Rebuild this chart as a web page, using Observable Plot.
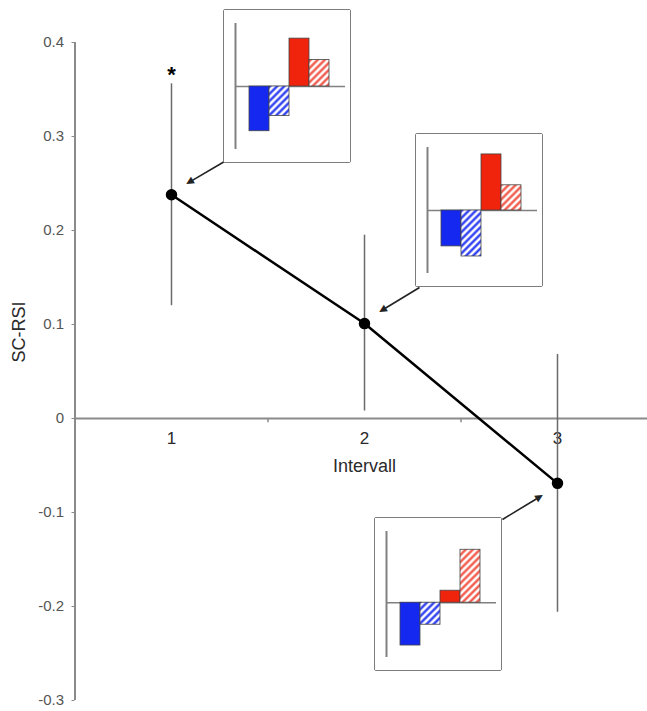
<!DOCTYPE html>
<html>
<head>
<meta charset="utf-8">
<script src="https://cdn.jsdelivr.net/npm/d3@7"></script>
<script src="https://cdn.jsdelivr.net/npm/@observablehq/plot@0.6"></script>
<style>
  html, body { margin: 0; padding: 0; background: #fff; overflow: hidden; }
  #wrap { position: relative; width: 647px; height: 711px; overflow: hidden; }
  #wrap svg { overflow: hidden; }
  .inset { position: absolute; border: 1.5px solid #7c7c7c; border-radius: 2px; background: #fff; box-sizing: content-box; }
  .inset svg { display: block; }
</style>
</head>
<body>
<svg width="0" height="0" style="position:absolute">
  <defs>
    <pattern id="hatchBlue" patternUnits="userSpaceOnUse" width="5" height="5" patternTransform="rotate(45)">
      <rect width="5" height="5" fill="#ffffff"></rect>
      <line x1="1.5" y1="0" x2="1.5" y2="5" stroke="#1a2cf0" stroke-width="2.2"></line>
    </pattern>
    <pattern id="hatchRed" patternUnits="userSpaceOnUse" width="5" height="5" patternTransform="rotate(45)">
      <rect width="5" height="5" fill="#ffffff"></rect>
      <line x1="1.5" y1="0" x2="1.5" y2="5" stroke="#f04a3a" stroke-width="2.2"></line>
    </pattern>
  </defs>
</svg>
<div id="wrap"></div>
<script>
// ---- main series ----
const intervals = [1, 2, 3];
const rsiMean = [0.238, 0.101, -0.069];
const rsiLow = [0.120, 0.008, -0.206];
const rsiHigh = [0.356, 0.195, 0.068];
const significance = ["*", "", ""];

// ---- axes ----
const yTicks = [0.4, 0.3, 0.2, 0.1, 0, -0.1, -0.2, -0.3];
const yTickLabels = ["0.4", "0.3", "0.2", "0.1", "0", "-0.1", "-0.2", "-0.3"];
const xTicks = [1, 2, 3];
const xTickLabels = ["1", "2", "3"];
const xBoundaries = [1.5, 2.5];
const yTitle = "SC-RSI";
const xTitle = "Intervall";

// ---- inset bar charts ----
const insetBars = ["blue", "blue hatched", "red", "red hatched"];
const inset1Values = [-0.71, -0.47, 0.76, 0.42];
const inset2Values = [-0.57, -0.73, 0.89, 0.40];
const inset3Values = [-0.68, -0.35, 0.19, 0.84];
const insetDomains = [[-1, 1], [-1, 1], [-0.87, 1.13]];
// inset placement (main-chart data coordinates: box centre x, box top y)
const insetCenterX = [1.606, 2.601, 2.386];
const insetTopY = [0.434, 0.302, -0.1074];
// arrows from inset boxes to points (data coordinates)
const arrowX1 = [1.2746, 2.285, 2.715];
const arrowY1 = [0.2734, 0.1394, -0.1074];
const arrowX2 = [1.0725, 2.0725, 2.9275];
const arrowY2 = [0.249, 0.1128, -0.0809];

const font = "Liberation Sans, Arial, Helvetica, sans-serif";

const xRange = [74.5, 653.5];
const yRange = [700, 42];
const kx = (xRange[1] - xRange[0]) / 3;       // px per x unit
const ky = (yRange[0] - yRange[1]) / 0.7;     // px per y unit

const points = intervals.map((x, i) => ({x, y: rsiMean[i], lo: rsiLow[i], hi: rsiHigh[i], sig: significance[i]}));
const headLen = 8;
const arrows = arrowX1.map((x1, i) => {
  const x2 = arrowX2[i], y2 = arrowY2[i], y1 = arrowY1[i];
  const dxp = (x2 - x1) * kx, dyp = -(y2 - y1) * ky;
  const len = Math.hypot(dxp, dyp);
  const ux = dxp / len, uy = dyp / len;
  const bx = x2 - ux * headLen / kx, by = y2 + uy * headLen / ky;
  const cx = x2 - ux * (headLen * 0.5) / kx, cy = y2 + uy * (headLen * 0.5) / ky;
  const rot = Math.atan2(ux, -uy) * 180 / Math.PI;
  return {x1, y1, x2, y2, bx, by, cx, cy, rot};
});
const xTickData = xTicks.map((v, i) => ({v, label: xTickLabels[i]}));

const chart = Plot.plot({
  width: 647,
  height: 711,
  marginTop: 42,
  marginBottom: 11,
  marginLeft: 74.5,
  marginRight: 0,
  style: {fontFamily: font, background: "#fff"},
  x: {domain: [0.5, 3.5], range: xRange, axis: null},
  y: {domain: [-0.3, 0.4], range: yRange, axis: null},
  marks: [
    // y axis
    Plot.ruleX([0.5], {y1: -0.3, y2: 0.4, stroke: "#8a8a8a", strokeWidth: 2}),
    Plot.axisY(yTicks, {tickSize: 3, tickPadding: 8, stroke: "#8a8a8a", fill: "#555", fontSize: 15,
      tickFormat: (d) => yTickLabels[yTicks.indexOf(d)]}),
    // x axis along zero
    Plot.ruleY([0], {x1: 0.5, x2: 3.5, stroke: "#8a8a8a", strokeWidth: 2}),
    Plot.link(xBoundaries, {x1: d => d, x2: d => d, y1: 0, y2: -0.004, stroke: "#8a8a8a", strokeWidth: 1.5}),
    Plot.text(xTickData, {x: "v", y: 0, text: "label", dy: 20, fontSize: 17, fill: "#2a2a2a"}),
    Plot.text([xTitle], {x: 2, y: 0, dy: 48, fontSize: 18, fill: "#2a2a2a"}),
    Plot.text([yTitle], {frameAnchor: "left", dx: -56, dy: -9, rotate: -90, fontSize: 18, fill: "#2a2a2a"}),
    // error bars
    Plot.ruleX(points, {x: "x", y1: "lo", y2: "hi", stroke: "#6a6a6a", strokeWidth: 1.5}),
    // mean line and points
    Plot.line(points, {x: "x", y: "y", stroke: "#000", strokeWidth: 2.5}),
    Plot.dot(points, {x: "x", y: "y", r: 5, fill: "#000", stroke: "#000"}),
    Plot.text(points.filter(d => d.sig), {x: "x", y: "hi", text: "sig", dy: -9, fontSize: 22, fontWeight: "bold", fill: "#000"}),
    // arrows: shaft + filled head (rotated glyph)
    Plot.link(arrows, {x1: "x1", y1: "y1", x2: "bx", y2: "by", stroke: "#222", strokeWidth: 1.6}),
    Plot.text(arrows, {x: "cx", y: "cy", text: () => "\u25B2", rotate: "rot", fontSize: 10,
      fontFamily: "DejaVu Sans", fill: "#222", lineAnchor: "middle"})
  ]
});

const wrap = document.getElementById("wrap");
wrap.appendChild(chart);

const sx = chart.scale("x");
const sy = chart.scale("y");

const insetW = 126, insetH = 152;
const fills = ["#1428f0", "url(#hatchBlue)", "#f0240c", "url(#hatchRed)"];
const allInsets = [inset1Values, inset2Values, inset3Values];

allInsets.forEach((vals, k) => {
  const data = insetBars.map((name, i) => ({name, i, v: vals[i]}));
  const dom = insetDomains[k];
  const p = Plot.plot({
    width: insetW,
    height: insetH,
    margin: 0,
    style: {background: "#fff"},
    x: {domain: [-1.25, 5.05], range: [0, insetW], axis: null},
    y: {domain: dom, range: [insetH - 13, 13], axis: null},
    marks: [
      Plot.ruleX([-0.7], {y1: dom[0], y2: dom[1], stroke: "#808080", strokeWidth: 2}),
      Plot.ruleY([0], {x1: -0.7, x2: 4.8, stroke: "#808080", strokeWidth: 1.5}),
      Plot.rect(data, {x1: d => d.i, x2: d => d.i + 1, y1: 0, y2: "v",
        fill: d => fills[d.i], stroke: "#444", strokeWidth: 0.8})
    ]
  });
  const div = document.createElement("div");
  div.className = "inset";
  const left = sx.apply(insetCenterX[k]) - insetW / 2 - 1.5;
  const top = sy.apply(insetTopY[k]) - 1.5;
  div.style.left = left + "px";
  div.style.top = top + "px";
  div.style.width = insetW + "px";
  div.style.height = insetH + "px";
  div.appendChild(p);
  wrap.appendChild(div);
});
</script>
</body>
</html>
